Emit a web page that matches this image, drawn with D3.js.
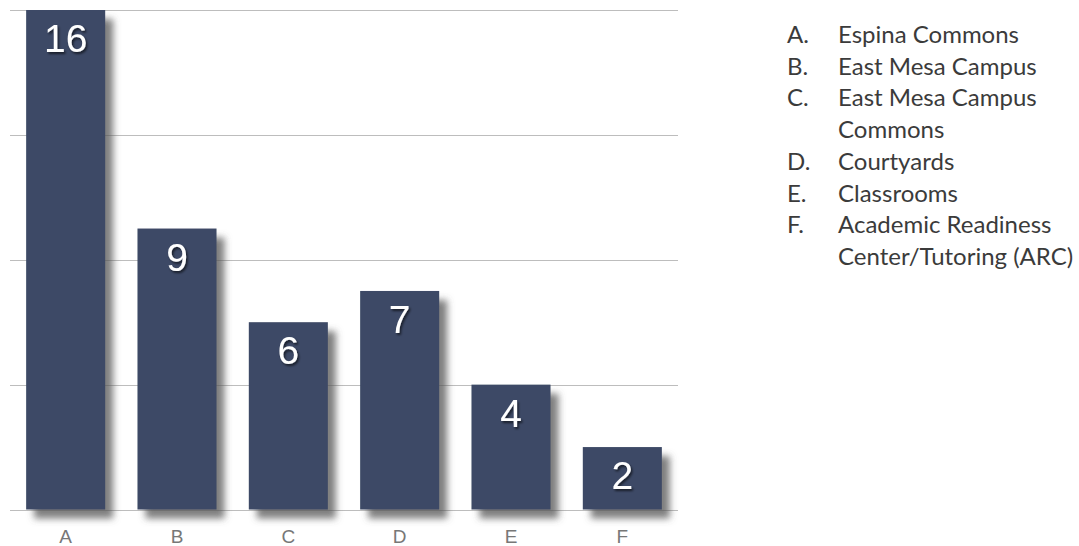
<!DOCTYPE html>
<html><head><meta charset="utf-8">
<script src="https://cdn.jsdelivr.net/npm/d3@7"></script>
<style>body{margin:0;background:#fff}svg{display:block}</style>
</head><body>
<svg id="c" width="1079" height="546"></svg>
<script>
const categories = ["A","B","C","D","E","F"];
const values = [16, 9, 6, 7, 4, 2];
const yTicks = [0, 4, 8, 12, 16];
const legendLetters = ["A.","B.","C.","","D.","E.","F.",""];
const legendTexts = ["Espina Commons","East Mesa Campus","East Mesa Campus","Commons","Courtyards","Classrooms","Academic Readiness","Center/Tutoring (ARC)"];

const svg = d3.select("#c");
const defs = svg.append("defs");
const f = defs.append("filter").attr("id","sh").attr("x","-20%").attr("y","-20%").attr("width","150%").attr("height","150%");
f.append("feDropShadow").attr("dx",8).attr("dy",9).attr("stdDeviation",3.5).attr("flood-color","#555").attr("flood-opacity",0.75);
const tf = defs.append("filter").attr("id","tsh").attr("x","-20%").attr("y","-20%").attr("width","150%").attr("height","150%");
tf.append("feDropShadow").attr("dx",1.5).attr("dy",2).attr("stdDeviation",1).attr("flood-color","#000").attr("flood-opacity",0.6);

const x = d3.scaleBand().domain(categories).range([10, 678]).paddingInner(0.29).paddingOuter(0.145);
const y = d3.scaleLinear().domain([0, 16]).range([509.5, 10]);

// gridlines
svg.append("g").selectAll("line").data(yTicks).join("line")
  .attr("x1",10).attr("x2",678)
  .attr("y1",d=>Math.round(y(d))+0.5).attr("y2",d=>Math.round(y(d))+0.5)
  .attr("stroke","#bdbdbd").attr("stroke-width",1);

// bars
svg.append("g").selectAll("rect").data(values).join("rect")
  .attr("x",(d,i)=>x(categories[i]))
  .attr("y",d=>y(d))
  .attr("width",x.bandwidth())
  .attr("height",d=>y(0)-y(d))
  .attr("fill","#3e4a66")
  .attr("filter","url(#sh)");

// value labels
svg.append("g").selectAll("text").data(values).join("text")
  .attr("x",(d,i)=>x(categories[i])+x.bandwidth()/2)
  .attr("y",d=>y(d)+42)
  .attr("text-anchor","middle")
  .attr("font-family","Liberation Sans, Arial, sans-serif")
  .attr("font-size",39)
  .attr("fill","#fff")
  .attr("filter","url(#tsh)")
  .text(d=>d);

// x axis labels
const xa = svg.append("g").attr("transform",`translate(0,${y(0)})`)
  .call(d3.axisBottom(x).tickSize(0).tickPadding(0));
xa.select(".domain").remove();
xa.selectAll("text")
  .attr("y",33).attr("dy",null)
  .attr("font-family","Liberation Sans, Arial, sans-serif")
  .attr("font-size",19).attr("fill","#777");

// legend
const lg = svg.append("g");
legendTexts.forEach((t,i)=>{
  const by = 43 + i*31.7;
  lg.append("text").attr("x",787).attr("y",by)
    .attr("font-family","Lato, sans-serif").attr("font-size",24).attr("fill","#3b3b3b")
    .text(legendLetters[i]);
  lg.append("text").attr("x",838).attr("y",by)
    .attr("font-family","Lato, sans-serif").attr("font-size",24).attr("fill","#3b3b3b")
    .text(t);
});
</script>
</body></html>
